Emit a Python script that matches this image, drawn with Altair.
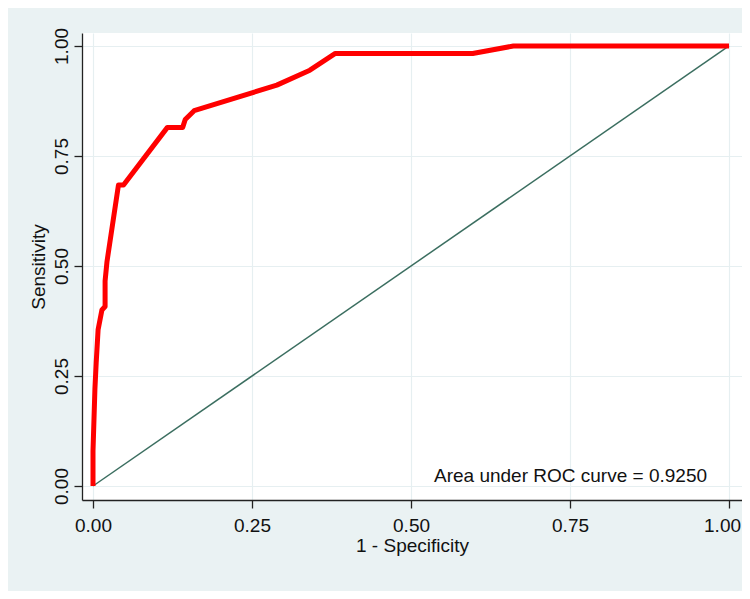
import altair as alt
import pandas as pd

# ROC curve (1 - specificity, sensitivity)
fpr = [0.000, 0.000, 0.003, 0.005, 0.008, 0.014, 0.019, 0.019, 0.022, 0.040, 0.048,
       0.117, 0.141, 0.145, 0.159, 0.289, 0.341, 0.381, 0.597, 0.661, 1.000]
tpr = [0.000, 0.080, 0.220, 0.280, 0.355, 0.400, 0.408, 0.466, 0.510, 0.684, 0.684,
       0.815, 0.815, 0.833, 0.853, 0.911, 0.945, 0.983, 0.983, 1.000, 1.000]

# reference (chance) line
ref_x = [0.0, 1.0]
ref_y = [0.0, 1.0]

tick_values = [0, 0.25, 0.5, 0.75, 1.0]
note_text = ["Area under ROC curve = 0.9250"]

roc_df = pd.DataFrame({"fpr": fpr, "tpr": tpr, "i": list(range(len(fpr)))})
ref_df = pd.DataFrame({"fpr": ref_x, "tpr": ref_y, "i": [0, 1]})
note_df = pd.DataFrame({"fpr": [0.9654], "tpr": [0.0098], "label": note_text})

FONT = "Liberation Sans"

x_scale = alt.Scale(domain=[-0.0173, 1.0204], nice=False, zero=False)
y_scale = alt.Scale(domain=[-0.0318, 1.0295], nice=False, zero=False)

x_axis = alt.Axis(values=tick_values, format=".2f", title="1 - Specificity",
                  labelPadding=8, titlePadding=1, labelBaseline="top",
                  labelOffset=alt.ExprRef(expr="datum.value == 1 ? -7 : 0"))
y_axis = alt.Axis(values=tick_values, format=".2f", title="Sensitivity",
                  labelAngle=-90, labelAlign="center", labelBaseline="alphabetic",
                  labelPadding=7, titlePadding=4)

ref = alt.Chart(ref_df).mark_line(color="#3b6e60", strokeWidth=1.5).encode(
    x=alt.X("fpr:Q", scale=x_scale, axis=x_axis),
    y=alt.Y("tpr:Q", scale=y_scale, axis=y_axis),
    order="i:Q",
)

roc = alt.Chart(roc_df).mark_line(color="#ff0000", strokeWidth=5, strokeJoin="round").encode(
    x=alt.X("fpr:Q", scale=x_scale),
    y=alt.Y("tpr:Q", scale=y_scale),
    order="i:Q",
)

note = alt.Chart(note_df).mark_text(
    align="right", baseline="alphabetic", font=FONT, fontSize=19, color="#111111"
).encode(
    x=alt.X("fpr:Q", scale=x_scale),
    y=alt.Y("tpr:Q", scale=y_scale),
    text="label:N",
)

chart = (
    alt.layer(ref, roc, note)
    .properties(
        width=660,
        height=467,
        background="#eaf2f3",
        padding={"left": 74, "top": 25, "right": 0, "bottom": 91},
        autosize=alt.AutoSizeParams(type="none"),
    )
    .configure_view(fill="white", stroke=None)
    .configure_axis(
        labelFont=FONT, titleFont=FONT, labelFontSize=19, titleFontSize=19,
        titleFontWeight="normal", labelColor="#111111", titleColor="#111111",
        domainColor="#222222", domainWidth=1.3, tickColor="#222222", tickWidth=1.3,
        tickSize=8, gridColor="#e6eff1", gridWidth=1.2, grid=True,
    )
)

chart.save("out.html", embed_options={"renderer": "svg", "actions": False})
